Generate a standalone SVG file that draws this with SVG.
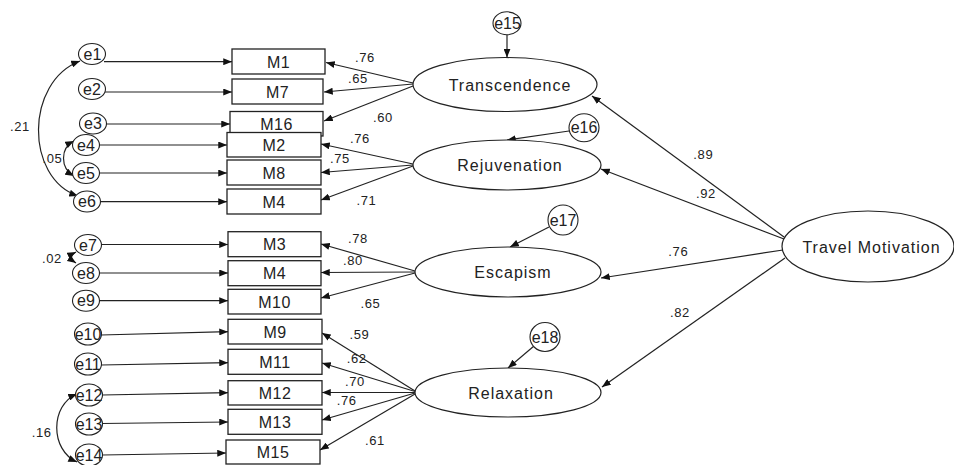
<svg xmlns="http://www.w3.org/2000/svg" width="954" height="465" viewBox="0 0 954 465">
  <defs>
    <marker id="arr" viewBox="0 0 10 8" refX="10" refY="4" markerWidth="9" markerHeight="7" markerUnits="userSpaceOnUse" orient="auto-start-reverse">
      <path d="M0,0 L10,4 L0,8 Z" fill="#111"/>
    </marker>
    <style>
      .ln { stroke: #222; stroke-width: 1.2; fill: none; marker-end: url(#arr); }
      .cov { stroke: #222; stroke-width: 1.2; fill: none; marker-start: url(#arr); marker-end: url(#arr); }
      .box { fill: #fff; stroke: #222; stroke-width: 1.3; }
      .lat { fill: #fff; stroke: #222; stroke-width: 1.2; }
      .err { fill: #fff; stroke: #222; stroke-width: 1.1; }
      text { font-family: "Liberation Sans", Arial, sans-serif; fill: #222; text-anchor: middle; }
      .ob { font-size: 16px; letter-spacing: 0.5px; }
      .ev { font-size: 16px; }
      .lv { font-size: 16px; letter-spacing: 1px; }
      .cf { font-size: 13px; letter-spacing: 0.6px; }
    </style>
  </defs>

  <!-- paths, loadings and covariances -->
  <g id="connectors">
    <!-- error terms to indicators -->
    <line class="ln" x1="104" y1="61.7" x2="232" y2="61.7"/>
    <line class="ln" x1="105" y1="92" x2="232" y2="92"/>
    <line class="ln" x1="106" y1="124" x2="230" y2="124"/>
    <line class="ln" x1="99" y1="145" x2="227" y2="145"/>
    <line class="ln" x1="99" y1="173" x2="227" y2="173"/>
    <line class="ln" x1="100" y1="201.7" x2="227" y2="201.7"/>
    <line class="ln" x1="101" y1="244.5" x2="228" y2="244.5"/>
    <line class="ln" x1="99" y1="273" x2="228" y2="273"/>
    <line class="ln" x1="99" y1="300.7" x2="228" y2="300.7"/>
    <line class="ln" x1="101" y1="335" x2="228" y2="331.7"/>
    <line class="ln" x1="101" y1="365" x2="228" y2="362.7"/>
    <line class="ln" x1="102" y1="395" x2="228" y2="392.7"/>
    <line class="ln" x1="102" y1="423.5" x2="228" y2="422"/>
    <line class="ln" x1="102" y1="455" x2="226" y2="453"/>

    <!-- Transcendence loadings -->
    <line class="ln" x1="413" y1="83" x2="326" y2="62.5"/>
    <line class="ln" x1="413" y1="84" x2="324" y2="92"/>
    <line class="ln" x1="413" y1="86" x2="324" y2="121"/>
    <!-- Rejuvenation loadings -->
    <line class="ln" x1="413" y1="164" x2="321" y2="144"/>
    <line class="ln" x1="413" y1="165" x2="321" y2="172.5"/>
    <line class="ln" x1="413" y1="166" x2="321" y2="200"/>
    <!-- Escapism loadings -->
    <line class="ln" x1="415" y1="271" x2="321" y2="244"/>
    <line class="ln" x1="415" y1="272" x2="321" y2="272.5"/>
    <line class="ln" x1="415" y1="273" x2="321" y2="298"/>
    <!-- Relaxation loadings -->
    <line class="ln" x1="415" y1="391" x2="322" y2="333"/>
    <line class="ln" x1="415" y1="391.5" x2="322" y2="363"/>
    <line class="ln" x1="415" y1="392.5" x2="322" y2="392.5"/>
    <line class="ln" x1="415" y1="393" x2="322" y2="420"/>
    <line class="ln" x1="415" y1="394" x2="320" y2="450"/>

    <!-- second-order paths -->
    <line class="ln" x1="784" y1="237" x2="592" y2="96"/>
    <line class="ln" x1="784" y1="239" x2="601" y2="169"/>
    <line class="ln" x1="783" y1="250" x2="601" y2="278"/>
    <line class="ln" x1="785" y1="258" x2="602" y2="387"/>

    <!-- disturbances -->
    <line class="ln" x1="507" y1="35" x2="507" y2="57.5"/>
    <line class="ln" x1="569" y1="131" x2="507" y2="140"/>
    <line class="ln" x1="549" y1="227" x2="510" y2="247"/>
    <line class="ln" x1="534" y1="346" x2="508" y2="368"/>

    <!-- error covariances -->
    <path class="cov" d="M80,61 C25,82 25,178 78,196"/>
    <path class="cov" d="M74,141 C60,148 60,168 74,176"/>
    <path class="cov" d="M76,252 C70,255 70,259 76,263"/>
    <path class="cov" d="M77,394 C50,405 50,450 77,462"/>
  </g>

  <!-- coefficient labels -->
  <g id="coefficients">
    <text class="cf" x="20" y="131">.21</text>
    <text class="cf" x="52.5" y="163">.05</text>
    <text class="cf" x="52" y="263">.02</text>
    <text class="cf" x="41.7" y="437">.16</text>

    <text class="cf" x="365" y="61.7">.76</text>
    <text class="cf" x="358" y="83">.65</text>
    <text class="cf" x="383" y="121.7">.60</text>
    <text class="cf" x="360" y="142.7">.76</text>
    <text class="cf" x="340" y="162.7">.75</text>
    <text class="cf" x="366.4" y="205">.71</text>
    <text class="cf" x="358" y="243.3">.78</text>
    <text class="cf" x="353" y="265">.80</text>
    <text class="cf" x="370.5" y="308">.65</text>
    <text class="cf" x="359.5" y="339.3">.59</text>
    <text class="cf" x="356.7" y="362.7">.62</text>
    <text class="cf" x="355" y="386">.70</text>
    <text class="cf" x="346.7" y="405">.76</text>
    <text class="cf" x="375" y="445">.61</text>

    <text class="cf" x="703.3" y="159.3">.89</text>
    <text class="cf" x="706" y="198.3">.92</text>
    <text class="cf" x="678.3" y="256">.76</text>
    <text class="cf" x="680" y="317.3">.82</text>
  </g>

  <!-- error terms -->
  <g id="e1"><ellipse class="err" cx="92" cy="54" rx="13.5" ry="10.5"/><text class="ev" x="92.5" y="59.5">e1</text></g>
  <g id="e2"><ellipse class="err" cx="92" cy="89" rx="13.5" ry="10.5"/><text class="ev" x="92" y="94.5">e2</text></g>
  <g id="e3"><ellipse class="err" cx="93" cy="123.5" rx="13.5" ry="10.5"/><text class="ev" x="93" y="129">e3</text></g>
  <g id="e4"><ellipse class="err" cx="86" cy="145" rx="13.5" ry="10.5"/><text class="ev" x="86" y="150.5">e4</text></g>
  <g id="e5"><ellipse class="err" cx="86" cy="173" rx="13.5" ry="10.5"/><text class="ev" x="86" y="178.5">e5</text></g>
  <g id="e6"><ellipse class="err" cx="87" cy="201.5" rx="13.5" ry="10.5"/><text class="ev" x="87" y="207">e6</text></g>
  <g id="e7"><ellipse class="err" cx="88" cy="245" rx="13.5" ry="10.5"/><text class="ev" x="88" y="250.5">e7</text></g>
  <g id="e8"><ellipse class="err" cx="86" cy="273" rx="13.5" ry="10.5"/><text class="ev" x="86" y="278.5">e8</text></g>
  <g id="e9"><ellipse class="err" cx="86" cy="300.7" rx="13.5" ry="10.5"/><text class="ev" x="86" y="306.2">e9</text></g>
  <g id="e10"><ellipse class="err" cx="88" cy="334" rx="13.5" ry="11"/><text class="ev" x="88" y="339.5">e10</text></g>
  <g id="e11"><ellipse class="err" cx="88" cy="364" rx="13.5" ry="11"/><text class="ev" x="88" y="369.5">e11</text></g>
  <g id="e12"><ellipse class="err" cx="89" cy="395" rx="13.5" ry="11"/><text class="ev" x="89" y="400.5">e12</text></g>
  <g id="e13"><ellipse class="err" cx="89" cy="424" rx="13.5" ry="11"/><text class="ev" x="89" y="429.5">e13</text></g>
  <g id="e14"><ellipse class="err" cx="89" cy="455" rx="13.5" ry="11"/><text class="ev" x="89" y="460.5">e14</text></g>

  <!-- observed indicators -->
  <g id="M1"><rect class="box" x="232" y="49" width="93" height="25"/><text class="ob" x="278.5" y="67.5">M1</text></g>
  <g id="M7"><rect class="box" x="232" y="79" width="91" height="25"/><text class="ob" x="277.5" y="97.5">M7</text></g>
  <g id="M16"><rect class="box" x="230" y="111.5" width="93" height="24.5"/><text class="ob" x="276.5" y="129.5">M16</text></g>
  <g id="M2"><rect class="box" x="227" y="132.5" width="94" height="24.5"/><text class="ob" x="274" y="150.5">M2</text></g>
  <g id="M8"><rect class="box" x="227" y="160" width="94" height="25"/><text class="ob" x="274" y="178.5">M8</text></g>
  <g id="M4a"><rect class="box" x="227" y="189" width="94" height="25"/><text class="ob" x="274" y="207.5">M4</text></g>
  <g id="M3"><rect class="box" x="228" y="231.7" width="93" height="25"/><text class="ob" x="274.5" y="250.2">M3</text></g>
  <g id="M4b"><rect class="box" x="228" y="260.7" width="93" height="25"/><text class="ob" x="274.5" y="279.2">M4</text></g>
  <g id="M10"><rect class="box" x="228" y="289.3" width="93" height="24.7"/><text class="ob" x="274.5" y="307.5">M10</text></g>
  <g id="M9"><rect class="box" x="228" y="319.3" width="94" height="24.7"/><text class="ob" x="275" y="337.5">M9</text></g>
  <g id="M11"><rect class="box" x="228" y="349.3" width="94" height="25"/><text class="ob" x="275" y="367.8">M11</text></g>
  <g id="M12"><rect class="box" x="228" y="380.7" width="94" height="24.3"/><text class="ob" x="275" y="398.8">M12</text></g>
  <g id="M13"><rect class="box" x="228" y="409.3" width="94" height="25"/><text class="ob" x="275" y="427.8">M13</text></g>
  <g id="M15"><rect class="box" x="226" y="440" width="94" height="24"/><text class="ob" x="273" y="458">M15</text></g>

  <!-- first-order factors -->
  <g id="Transcendence"><ellipse class="lat" cx="505" cy="84.5" rx="92" ry="27"/><text class="lv" x="510" y="90.5">Transcendence</text></g>
  <g id="Rejuvenation"><ellipse class="lat" cx="507" cy="165" rx="94" ry="25"/><text class="lv" x="510" y="171">Rejuvenation</text></g>
  <g id="Escapism"><ellipse class="lat" cx="508" cy="272" rx="93" ry="25"/><text class="lv" x="513" y="278">Escapism</text></g>
  <g id="Relaxation"><ellipse class="lat" cx="508" cy="392.5" rx="93" ry="24.5"/><text class="lv" x="511" y="398.5">Relaxation</text></g>

  <!-- second-order factor -->
  <g id="TravelMotivation"><ellipse class="lat" cx="868" cy="246.5" rx="86" ry="35.5"/><text class="lv" x="871.5" y="252.7">Travel Motivation</text></g>

  <!-- disturbances -->
  <g id="e15"><ellipse class="err" cx="507" cy="23.3" rx="14" ry="11.5"/><text class="ev" x="507.5" y="29">e15</text></g>
  <g id="e16"><ellipse class="err" cx="584" cy="127.7" rx="15" ry="14"/><text class="ev" x="584" y="133.2">e16</text></g>
  <g id="e17"><ellipse class="err" cx="563" cy="220" rx="15" ry="15"/><text class="ev" x="563" y="225.5">e17</text></g>
  <g id="e18"><ellipse class="err" cx="545" cy="337" rx="15" ry="14.5"/><text class="ev" x="545" y="342.5">e18</text></g>
</svg>
